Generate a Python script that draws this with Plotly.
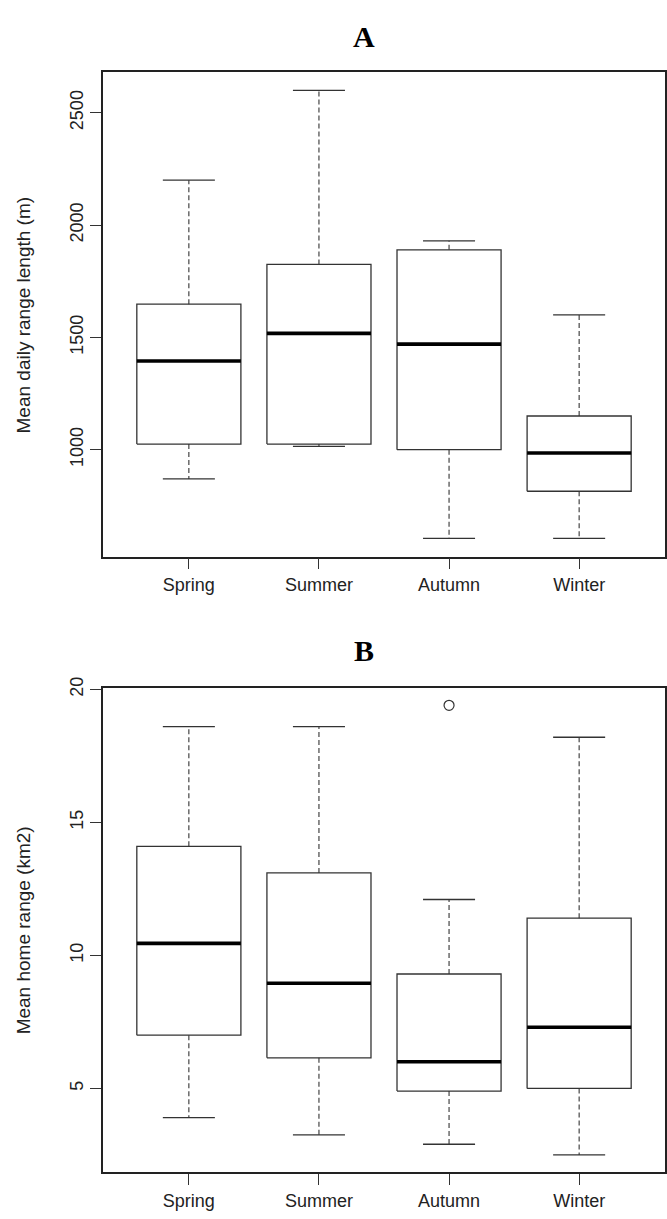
import plotly.graph_objects as go

# ---------------- data ----------------
seasons = ["Spring", "Summer", "Autumn", "Winter"]

# Panel A: Mean daily range length (m)
a_lower = [870, 1015, 605, 605]
a_q1 = [1025, 1025, 1000, 815]
a_median = [1395, 1518, 1470, 985]
a_q3 = [1648, 1825, 1890, 1150]
a_upper = [2200, 2600, 1930, 1600]
a_out_season = []
a_out_value = []

# Panel B: Mean home range (km2)
b_lower = [3.9, 3.25, 2.9, 2.5]
b_q1 = [7.0, 6.15, 4.9, 5.0]
b_median = [10.45, 8.95, 6.0, 7.3]
b_q3 = [14.1, 13.1, 9.3, 11.4]
b_upper = [18.6, 18.6, 12.1, 18.2]
b_out_season = ["Autumn"]
b_out_value = [19.4]

a_ticks = [1000, 1500, 2000, 2500]
b_ticks = [5, 10, 15, 20]

# ---------------- style ----------------
LINE = "#333333"
BOX_HW = 0.4
CAP_HW = 0.2
FONT = "Liberation Sans, Arial, sans-serif"

fig = go.Figure()


def add_boxplot(lower, q1, med, q3, upper, out_s, out_v, xa, ya):
    bx, by, mx, my, wx, wy, cx, cy = [], [], [], [], [], [], [], []
    for i in range(len(seasons)):
        p = i + 1
        bx += [p - BOX_HW, p + BOX_HW, p + BOX_HW, p - BOX_HW, p - BOX_HW, None]
        by += [q1[i], q1[i], q3[i], q3[i], q1[i], None]
        mx += [p - BOX_HW, p + BOX_HW, None]
        my += [med[i], med[i], None]
        wx += [p, p, None, p, p, None]
        wy += [q3[i], upper[i], None, q1[i], lower[i], None]
        cx += [p - CAP_HW, p + CAP_HW, None, p - CAP_HW, p + CAP_HW, None]
        cy += [upper[i], upper[i], None, lower[i], lower[i], None]
    common = dict(mode="lines", xaxis=xa, yaxis=ya, showlegend=False, hoverinfo="skip")
    fig.add_trace(go.Scatter(x=wx, y=wy, line=dict(color=LINE, width=1.1, dash="5px,3px"), **common))
    fig.add_trace(go.Scatter(x=cx, y=cy, line=dict(color=LINE, width=1.3), **common))
    fig.add_trace(go.Scatter(x=bx, y=by, line=dict(color=LINE, width=1.3), **common))
    fig.add_trace(go.Scatter(x=mx, y=my, line=dict(color="#000000", width=3.6), **common))
    if out_v:
        ox = [seasons.index(s) + 1 for s in out_s]
        fig.add_trace(go.Scatter(x=ox, y=out_v, mode="markers", xaxis=xa, yaxis=ya,
                                 showlegend=False, hoverinfo="skip",
                                 marker=dict(symbol="circle-open", size=10,
                                             color=LINE, line=dict(width=1.2, color=LINE))))


add_boxplot(a_lower, a_q1, a_median, a_q3, a_upper, a_out_season, a_out_value, "x", "y")
add_boxplot(b_lower, b_q1, b_median, b_q3, b_upper, b_out_season, b_out_value, "x2", "y2")

W, H = 667, 1219
topA, botA = 61, 550
topB, botB = 683, 1172

xaxis_style = dict(
    range=[0.34, 4.66], tickvals=[1, 2, 3, 4], ticktext=seasons,
    showline=True, mirror=True, linecolor="#222222", linewidth=1.6,
    ticks="outside", ticklen=11, tickwidth=1.3, tickcolor=LINE,
    showgrid=False, zeroline=False,
    tickfont=dict(family=FONT, size=18, color="#222222"),
)

yaxis_style = dict(
    showline=True, mirror=True, linecolor="#222222", linewidth=1.6,
    ticks="outside", ticklen=11, tickwidth=1.3, tickcolor=LINE,
    showgrid=False, zeroline=False, tickangle=-90,
    tickfont=dict(family=FONT, size=18, color="#222222"),
)

fig.update_layout(
    width=W, height=H,
    margin=dict(l=103, r=2, t=0, b=0),
    paper_bgcolor="white", plot_bgcolor="white",
    xaxis=dict(**xaxis_style, domain=[0, 1], anchor="y"),
    xaxis2=dict(**xaxis_style, domain=[0, 1], anchor="y2"),
    yaxis=dict(**yaxis_style, domain=[1 - botA / H, 1 - topA / H], anchor="x",
               range=[524, 2680], tickvals=a_ticks),
    yaxis2=dict(**yaxis_style, domain=[1 - botB / H, 1 - topB / H], anchor="x2",
                range=[1.84, 20.04], tickvals=b_ticks),
)

plot_w = W - 103 - 2


def px_to_paper_x(px):
    return (px - 103) / plot_w


annotations = [
    dict(text="<b>A</b>", x=px_to_paper_x(364), y=1 - 25 / H),
    dict(text="<b>B</b>", x=px_to_paper_x(364), y=1 - 645 / H),
]
for a in annotations:
    a.update(xref="paper", yref="paper", showarrow=False, xanchor="center", yanchor="middle",
             font=dict(family="Liberation Serif, Times New Roman, serif", size=30, color="#000000"))

annotations += [
    dict(text="Mean daily range length (m)", x=px_to_paper_x(23), y=1 - (topA + botA) / 2 / H,
         textangle=-90),
    dict(text="Mean home range (km2)", x=px_to_paper_x(23), y=1 - (topB + botB) / 2 / H,
         textangle=-90),
]
for a in annotations[2:]:
    a.update(xref="paper", yref="paper", showarrow=False, xanchor="center", yanchor="middle",
             font=dict(family=FONT, size=19, color="#222222"))

fig.update_layout(annotations=annotations)

fig.write_html("out.html")
